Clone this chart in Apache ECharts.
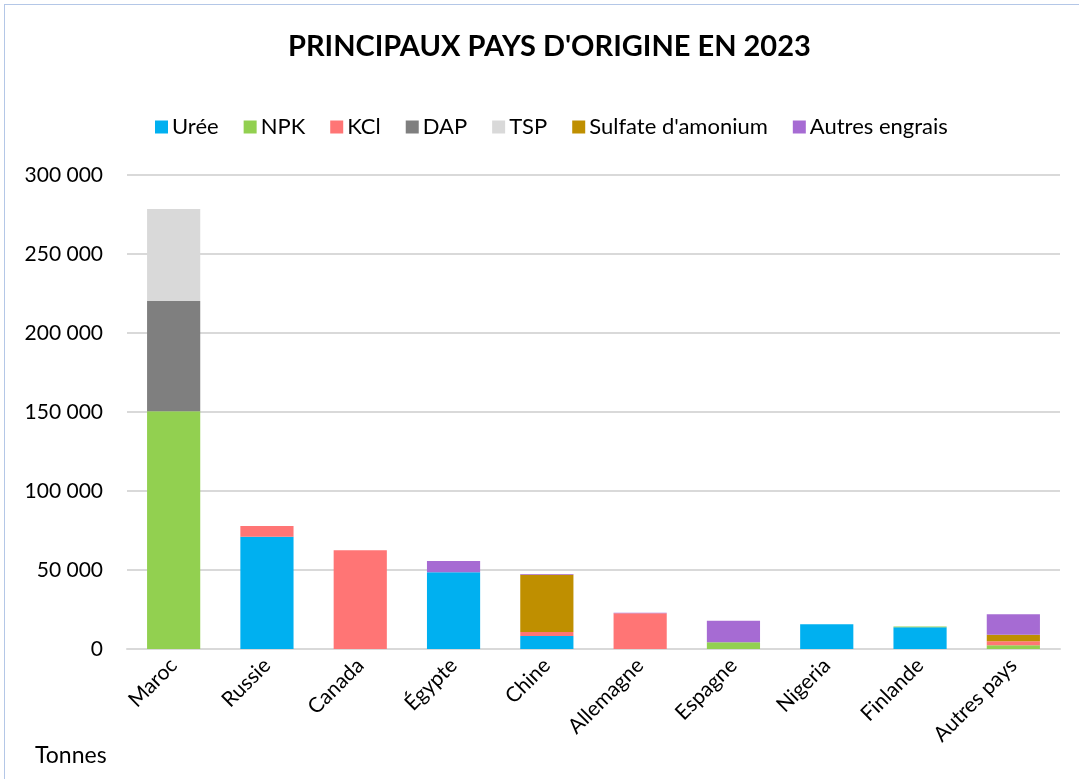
<!DOCTYPE html>
<html>
<head>
<meta charset="utf-8">
<script src="https://cdn.jsdelivr.net/npm/echarts@6/dist/echarts.min.js"></script>
<style>
  html, body { margin: 0; padding: 0; background: #fff; }
  #frame { position: absolute; left: 4px; top: 4px; width: 1090px; height: 800px; border-left: 1px solid #b4c7e7; border-top: 1px solid #b4c7e7; }
  #chart { position: absolute; left: 0; top: 0; width: 1079px; height: 779px; }
</style>
</head>
<body>
<div id="frame"></div>
<div id="chart"></div>
<script>
// pays d'origine
var pays = ["Maroc", "Russie", "Canada", "Égypte", "Chine", "Allemagne", "Espagne", "Nigeria", "Finlande", "Autres pays"];
// tonnes par engrais
var uree     = [0, 71100, 0, 48500, 8200, 0, 0, 15600, 13700, 0];
var npk      = [150500, 0, 0, 0, 0, 0, 4200, 0, 600, 2300];
var kcl      = [0, 6800, 62500, 0, 2600, 22600, 0, 0, 0, 2600];
var dap      = [69700, 0, 0, 0, 0, 0, 0, 0, 0, 0];
var tsp      = [58300, 0, 0, 0, 0, 0, 0, 0, 0, 0];
var sulfate  = [0, 0, 0, 0, 36200, 0, 0, 0, 0, 4100];
var autres   = [0, 0, 0, 7200, 400, 300, 13700, 0, 0, 13000];
var yTicks = [0, 50000, 100000, 150000, 200000, 250000, 300000];

var fnt = "Lato, 'Open Sans', sans-serif";
var myChart = echarts.init(document.getElementById("chart"));

function fmt(v) {
  return String(v).replace(/\B(?=(\d{3})+(?!\d))/g, " ");
}

var series = [
  { name: "Urée", data: uree, color: "#00b0f0" },
  { name: "NPK", data: npk, color: "#92d050" },
  { name: "KCl", data: kcl, color: "#ff7575" },
  { name: "DAP", data: dap, color: "#7f7f7f" },
  { name: "TSP", data: tsp, color: "#d9d9d9" },
  { name: "Sulfate d'amonium", data: sulfate, color: "#bf8f00" },
  { name: "Autres engrais", data: autres, color: "#a66bd3" }
].map(function (s) {
  return {
    name: s.name,
    type: "bar",
    stack: "total",
    data: s.data,
    barWidth: "57%",
    itemStyle: { color: s.color },
    emphasis: { disabled: true }
  };
});

var option = {
  animation: false,
  title: {
    text: "PRINCIPAUX PAYS D'ORIGINE EN 2023",
    left: 283,
    top: 27,
    textStyle: { fontFamily: fnt, fontSize: 29, fontWeight: "bold", color: "#000" }
  },
  legend: {
    top: 111,
    left: 150,
    itemWidth: 13,
    itemHeight: 13,
    itemGap: 25,
    icon: "rect",
    textStyle: { fontFamily: fnt, fontSize: 22, color: "#000", padding: [0, 0, 0, -1] },
    data: series.map(function (s) { return s.name; })
  },
  grid: { left: 127, right: 19, top: 175, bottom: 130, containLabel: false },
  xAxis: {
    type: "category",
    data: pays,
    axisLine: { lineStyle: { color: "#d9d9d9", width: 2 } },
    axisTick: { show: false },
    axisLabel: { rotate: 45, fontFamily: fnt, fontSize: 21, color: "#000", margin: 13 }
  },
  yAxis: {
    type: "value",
    min: yTicks[0],
    max: yTicks[yTicks.length - 1],
    interval: 50000,
    axisLine: { show: false },
    axisTick: { show: false },
    splitLine: { lineStyle: { color: "#d9d9d9", width: 2 } },
    axisLabel: { fontFamily: fnt, fontSize: 21, color: "#000", margin: 24, formatter: fmt }
  },
  graphic: [{
    type: "text",
    left: 35,
    top: 744,
    style: { text: "Tonnes", fontFamily: fnt, fontSize: 23, fill: "#000" }
  }],
  series: series
};
myChart.setOption(option);
</script>
</body>
</html>
